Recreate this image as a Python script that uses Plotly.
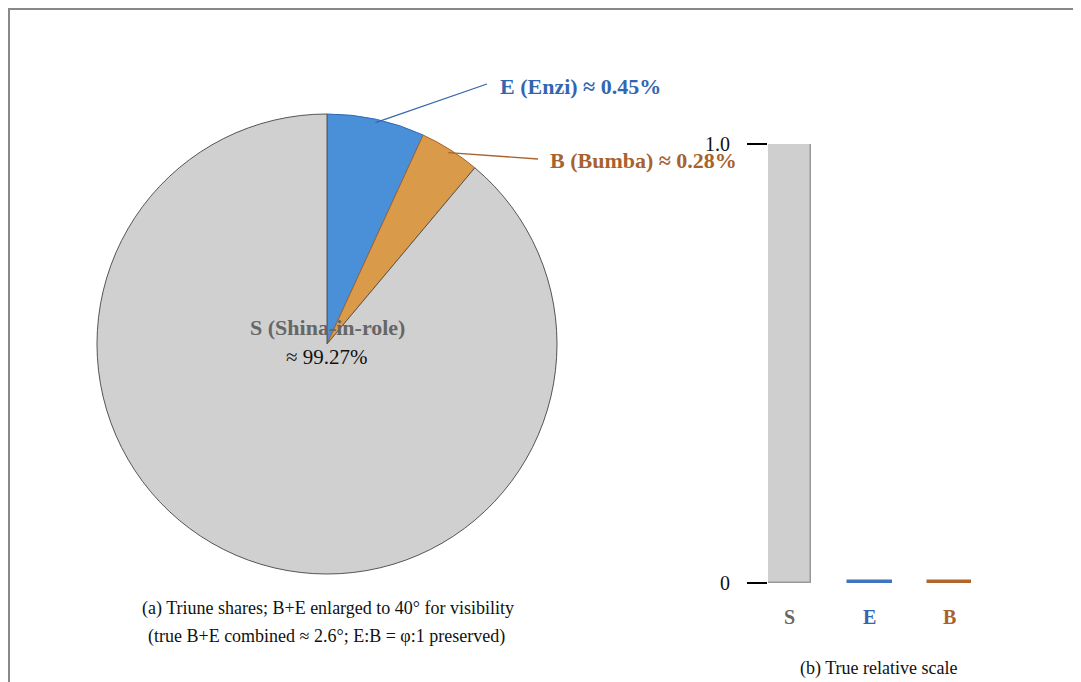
import math
import plotly.graph_objects as go

# ---------------- data ----------------
categories = ["E", "B", "S"]
pie_labels = ["E (Enzi) ≈ 0.45%", "B (Bumba) ≈ 0.28%", "S (Shina-in-role)"]
true_share_pct = [0.45, 0.28, 99.27]          # true shares (%)
display_angle_deg = [24.7, 15.3, 320.0]       # angles drawn in the pie (B+E enlarged to 40°)
bar_categories = ["S", "E", "B"]
bar_values = [1.0, 0.45 / 99.27, 0.28 / 99.27]  # relative to S
ytick_vals = [0, 1.0]
ytick_text = ["0", "1.0"]

# ---------------- style ----------------
W, H = 1081, 682
OFF = 8  # page body margin offset
FONT = "Liberation Serif"
pie_fill = {"E": "#4a90d9", "B": "#d99a4a", "S": "#d0d0d0"}
pie_edge = {"E": "#2f6bb5", "B": "#a5622c", "S": "#555555"}
text_col = {"E": "#3465b0", "B": "#a8622e", "S": "#666666"}
bar_fill = {"S": "#cfcfcf", "E": "#3f75c0", "B": "#b0672e"}
bar_edge = {"S": "#999999", "E": "#3f75c0", "B": "#b0672e"}

# pie geometry (screen pixels)
cx, cy, R = 327, 344, 230


def px_x(x):
    return (x - OFF) / W


def px_y(y):
    return 1 - (y - OFF) / H


fig = go.Figure()

fig.add_trace(go.Pie(
    labels=categories,
    values=display_angle_deg,
    sort=False,
    direction="clockwise",
    rotation=0,
    textinfo="none",
    hoverinfo="label",
    marker=dict(colors=[pie_fill[c] for c in categories],
                line=dict(color=[pie_edge[c] for c in categories], width=1)),
    domain=dict(x=[px_x(cx - R), px_x(cx + R)], y=[px_y(cy + R), px_y(cy - R)]),
    showlegend=False,
))

# bar chart
bx0, bx1 = 768, 971
by_top, by_bot = 144, 583
fig.add_trace(go.Bar(
    x=bar_categories,
    y=bar_values,
    width=0.54,
    marker=dict(color=[bar_fill[c] for c in bar_categories],
                line=dict(color=[bar_edge[c] for c in bar_categories], width=[1.5, 2.5, 2.5])),
    xaxis="x", yaxis="y",
    showlegend=False,
    hoverinfo="x+y",
))

annotations = []
shapes = []

# leader lines + labels for E and B
start = 0.0
label_pos = {"E": (498, 86, 487, 84), "B": (548, 160, 538, 159)}
for cat, ang, lab in zip(categories, display_angle_deg, pie_labels):
    mid = start + ang / 2
    start += ang
    if cat == "S":
        continue
    r = R * 0.985
    sx = cx + r * math.sin(math.radians(mid))
    sy = cy - r * math.cos(math.radians(mid))
    lx, ly, ex, ey = label_pos[cat]
    shapes.append(dict(type="line", xref="paper", yref="paper",
                       x0=px_x(sx), y0=px_y(sy), x1=px_x(ex), y1=px_y(ey),
                       line=dict(color=text_col[cat], width=1.3)))
    annotations.append(dict(x=px_x(lx), y=px_y(ly), xref="paper", yref="paper",
                            text="<b>" + lab + "</b>", showarrow=False,
                            xanchor="left", yanchor="middle",
                            font=dict(family=FONT, size=22, color=text_col[cat])))

# S label inside pie
annotations.append(dict(x=px_x(cx), y=px_y(327), xref="paper", yref="paper",
                        text="<b>" + pie_labels[2] + "</b>", showarrow=False,
                        xanchor="center", yanchor="middle",
                        font=dict(family=FONT, size=22, color=text_col["S"])))
annotations.append(dict(x=px_x(cx), y=px_y(357), xref="paper", yref="paper",
                        text="≈ %.2f%%" % true_share_pct[2], showarrow=False,
                        xanchor="center", yanchor="middle",
                        font=dict(family=FONT, size=21, color="#111111")))

# captions
annotations.append(dict(x=px_x(328), y=px_y(608), xref="paper", yref="paper",
                        text="(a) Triune shares; B+E enlarged to 40° for visibility",
                        showarrow=False, xanchor="center", yanchor="middle",
                        font=dict(family=FONT, size=18, color="#111111")))
annotations.append(dict(x=px_x(326), y=px_y(636), xref="paper", yref="paper",
                        text="(true B+E combined ≈ 2.6°; E:B = φ:1 preserved)",
                        showarrow=False, xanchor="center", yanchor="middle",
                        font=dict(family=FONT, size=18, color="#111111")))
annotations.append(dict(x=px_x(878), y=px_y(668), xref="paper", yref="paper",
                        text="(b) True relative scale",
                        showarrow=False, xanchor="center", yanchor="middle",
                        font=dict(family=FONT, size=18, color="#111111")))

# category labels under bars (colored)
for c in bar_categories:
    annotations.append(dict(x=c, y=0, xref="x", yref="y", yshift=-34,
                            text="<b>" + c + "</b>", showarrow=False,
                            xanchor="center", yanchor="middle",
                            font=dict(family=FONT, size=20, color=text_col[c])))

# outer frame: only top and left edges are visible in the window
shapes.append(dict(type="line", xref="paper", yref="paper",
                   x0=0, y0=1 - 1 / H, x1=1, y1=1 - 1 / H,
                   line=dict(color="#888888", width=2)))
shapes.append(dict(type="line", xref="paper", yref="paper",
                   x0=1 / W, y0=0, x1=1 / W, y1=1,
                   line=dict(color="#888888", width=2)))

fig.update_layout(
    width=W, height=H, autosize=False,
    margin=dict(l=0, r=0, t=0, b=0, pad=0, autoexpand=False),
    paper_bgcolor="white", plot_bgcolor="white",
    font=dict(family=FONT, color="#111111"),
    xaxis=dict(domain=[px_x(bx0), px_x(bx1)], range=[-0.27, 2.27],
               type="category", showticklabels=False, showgrid=False,
               zeroline=False, showline=False, ticks="", fixedrange=True,
               automargin=False),
    yaxis=dict(domain=[px_y(by_bot), px_y(by_top)], range=[-0.001, 1.0],
               tickvals=ytick_vals, ticktext=ytick_text,
               ticks="outside", ticklen=20, tickwidth=2, tickcolor="#000000",
               ticklabelstandoff=13, automargin=False,
               tickfont=dict(family=FONT, size=20, color="#111111"),
               showgrid=False, zeroline=False, showline=False, fixedrange=True),
    annotations=annotations,
    shapes=shapes,
    bargap=0,
)

fig.write_html("out.html")
